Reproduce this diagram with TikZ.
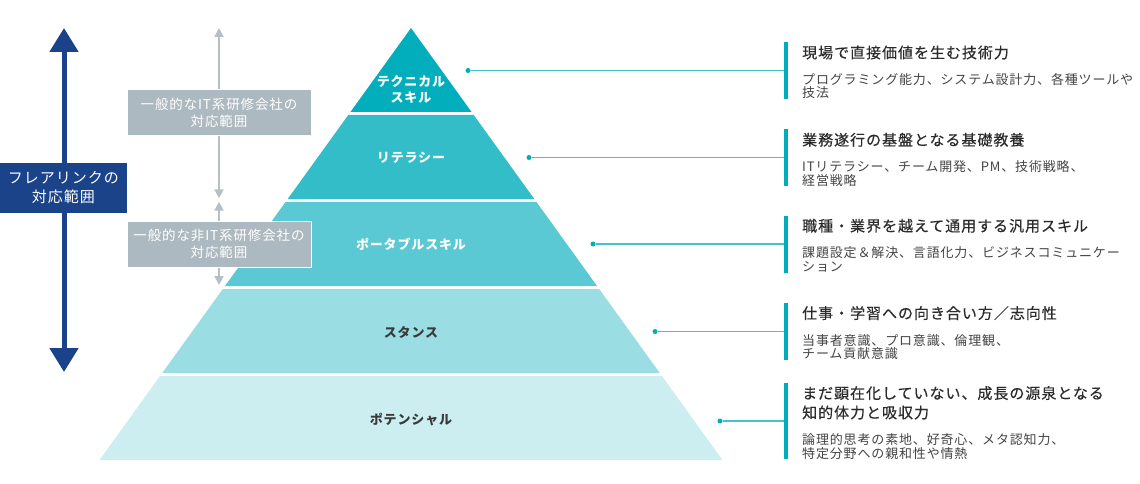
\documentclass[tikz,border=0pt]{standalone}
\usepackage{fontspec}
\setmainfont{Noto Sans CJK JP}[LetterSpace=6.5]
\newfontfamily\ttlfont{Noto Sans CJK JP}[LetterSpace=6.5, FakeBold=0.4]
\usetikzlibrary{arrows.meta}
\definecolor{bandA}{HTML}{03AEBC}
\definecolor{bandB}{HTML}{33BDC8}
\definecolor{bandC}{HTML}{5BC9D4}
\definecolor{bandD}{HTML}{9ADEE4}
\definecolor{bandE}{HTML}{CCEEF0}
\definecolor{tealdot}{HTML}{00AEBB}
\definecolor{linec}{HTML}{45C2CC}
\definecolor{navy}{HTML}{1A4389}
\definecolor{grayb}{HTML}{ADB9C0}
\definecolor{graya}{HTML}{B4BFC6}
\definecolor{titlec}{HTML}{2B2B2B}
\definecolor{subc}{HTML}{444444}
\definecolor{darklab}{HTML}{3A3A3A}
\begin{document}
\begin{tikzpicture}[x=1pt,y=-1pt,
  plabel/.style={anchor=base, inner sep=0, font=\fontsize{13}{13}\selectfont\bfseries},
  ttl/.style={anchor=base west, inner sep=0, text=titlec, font=\ttlfont\fontsize{15}{15}\selectfont},
  subtxt/.style={anchor=base west, inner sep=0, text=subc, font=\fontsize{13}{13}\selectfont},
  tdot/.style={circle, fill=tealdot, inner sep=0, minimum size=5},
  sidebar/.style={fill=tealdot, inner sep=0, minimum width=3.5, minimum height=57},
  conn/.style={draw=linec, line width=1.2},
  garrow/.style={draw=graya, line width=2, -{Triangle[width=9pt,length=9pt]}},
  gbox/.style={fill=grayb, draw=white, line width=1, inner sep=0, minimum width=184, minimum height=46, align=center, text=white, font=\fontsize{13.5}{16.7}\selectfont},
  navyarrow/.style={draw=navy, line width=5, {Triangle[width=28pt,length=24pt]}-{Triangle[width=28pt,length=24pt]}},
  navybox/.style={fill=navy, inner sep=0, minimum width=126.7, minimum height=50, align=center, text=white, font=\fontsize{15}{19}\selectfont}
]
\useasboundingbox (0,0) rectangle (1140,484);

% pyramid
\fill[bandA] (411,28) -- (471.57,112) -- (350.43,112) -- cycle;
\fill[bandB] (348.26,115) -- (473.74,115) -- (534.31,199) -- (287.69,199) -- cycle;
\fill[bandC] (285.53,202) -- (536.47,202) -- (597.04,286) -- (224.96,286) -- cycle;
\fill[bandD] (222.79,289) -- (599.21,289) -- (659.78,373) -- (162.22,373) -- cycle;
\fill[bandE] (160.06,376) -- (661.94,376) -- (722.5,460) -- (99.5,460) -- cycle;

\node[plabel, text=white] (l1a) at (411,87) {テクニカル};
\node[plabel, text=white] (l1b) at (411,103) {スキル};
\node[plabel, text=white] (l2) at (411,162.3) {リテラシー};
\node[plabel, text=white] (l3) at (411,249.5) {ポータブルスキル};
\node[plabel, text=darklab] (l4) at (411,337.5) {スタンス};
\node[plabel, text=darklab] (l5) at (411,424) {ポテンシャル};

% connectors and right side
\node[tdot] (d1) at (468,70.5) {};
\node[tdot] (d2) at (529,157.5) {};
\node[tdot] (d3) at (593,244) {};
\node[tdot] (d4) at (655,331.5) {};
\node[tdot] (d5) at (720,421) {};
\node[sidebar] (b1) at (785.75,70.5) {};
\node[sidebar] (b2) at (785.75,157.5) {};
\node[sidebar] (b3) at (785.75,244) {};
\node[sidebar] (b4) at (785.75,331.5) {};
\node[sidebar, minimum height=76] (b5) at (785.75,421) {};
\draw[conn] (d1.east) -- (d1.center -| b1.west);
\draw[conn] (d2.east) -- (d2.center -| b2.west);
\draw[conn] (d3.east) -- (d3.center -| b3.west);
\draw[conn] (d4.east) -- (d4.center -| b4.west);
\draw[conn] (d5.east) -- (d5.center -| b5.west);

\node[ttl] (t1) at (802,58.2) {現場で直接価値を生む技術力};
\node[subtxt] (s1a) at (802,84.5) {プログラミング能力、システム設計力、各種ツールや};
\node[subtxt] (s1b) at (802,98) {技法};

\node[ttl] (t2) at (802,145.5) {業務遂行の基盤となる基礎教養};
\node[subtxt] (s2a) at (802,171.8) {ITリテラシー、チーム開発、PM、技術戦略、};
\node[subtxt] (s2b) at (802,185.3) {経営戦略};

\node[ttl] (t3) at (802,231.5) {職種・業界を越えて通用する汎用スキル};
\node[subtxt] (s3a) at (802,257.8) {課題設定＆解決、言語化力、ビジネスコミュニケー};
\node[subtxt] (s3b) at (802,271.3) {ション};

\node[ttl] (t4) at (802,318.8) {仕事・学習への向き合い方／志向性};
\node[subtxt] (s4a) at (802,345.1) {当事者意識、プロ意識、倫理観、};
\node[subtxt] (s4b) at (802,358.6) {チーム貢献意識};

\node[ttl] (t5a) at (802,398.8) {まだ顕在化していない、成長の源泉となる};
\node[ttl] (t5b) at (802,418.2) {知的体力と吸収力};
\node[subtxt] (s5a) at (802,444.5) {論理的思考の素地、好奇心、メタ認知力、};
\node[subtxt] (s5b) at (802,458) {特定分野への親和性や情熱};

% gray ranges
\node[gbox] (g1) at (219,112.85) {一般的なIT系研修会社の\\対応範囲};
\node[gbox] (g2) at (219,244.2) {一般的な非IT系研修会社の\\対応範囲};
\coordinate (gt1) at (219,28);
\coordinate (gt2) at (219,198.3);
\coordinate (gt3) at (219,201.7);
\coordinate (gt4) at (219,285);
\draw[garrow] (g1.north) -- (gt1);
\draw[garrow] (g1.south) -- (gt2);
\draw[garrow] (g2.north) -- (gt3);
\draw[garrow] (g2.south) -- (gt4);

% navy range
\coordinate (nt) at (64,28);
\coordinate (nb) at (64,372);
\draw[navyarrow] (nt) -- (nb);
\node[navybox] (flare) at (63.35,187.7) {フレアリンクの\\対応範囲};
\end{tikzpicture}
\end{document}
